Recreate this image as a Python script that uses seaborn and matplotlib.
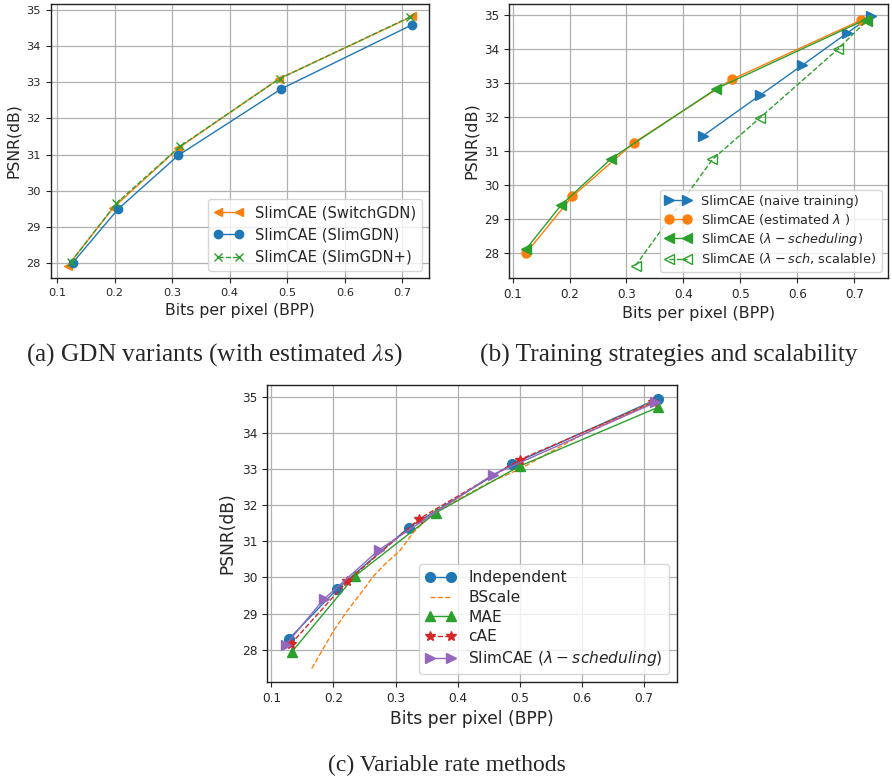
import numpy as np
import pandas as pd
import matplotlib
matplotlib.use("Agg")
import matplotlib.pyplot as plt
import seaborn as sns

# ---------------- data ----------------
# (a) GDN variants
a_switch_x = [0.119, 0.198, 0.311, 0.485, 0.717]
a_switch_y = [27.93, 29.53, 31.18, 33.09, 34.82]
a_slim_x = [0.127, 0.206, 0.311, 0.490, 0.717]
a_slim_y = [28.00, 29.49, 30.98, 32.82, 34.59]
a_slimp_x = [0.124, 0.203, 0.314, 0.487, 0.714]
a_slimp_y = [28.02, 29.65, 31.23, 33.10, 34.81]

# (b) training strategies
b_naive_x = [0.435, 0.535, 0.609, 0.688, 0.729]
b_naive_y = [31.45, 32.64, 33.52, 34.47, 34.95]
b_est_x = [0.124, 0.205, 0.313, 0.485, 0.712]
b_est_y = [28.00, 29.66, 31.24, 33.10, 34.84]
b_sch_x = [0.124, 0.185, 0.273, 0.458, 0.720]
b_sch_y = [28.12, 29.40, 30.77, 32.83, 34.86]
b_scal_x = [0.316, 0.451, 0.535, 0.672, 0.722]
b_scal_y = [27.63, 30.75, 31.98, 34.00, 34.83]

# (c) variable rate methods
c_ind_x = [0.128, 0.206, 0.321, 0.487, 0.723]
c_ind_y = [28.29, 29.68, 31.38, 33.13, 34.95]
c_bs_x = [0.165, 0.200, 0.222, 0.243, 0.265, 0.286, 0.307, 0.329, 0.361, 0.400, 0.450, 0.500, 0.600, 0.720]
c_bs_y = [27.48, 28.52, 29.07, 29.54, 30.05, 30.42, 30.74, 31.25, 31.80, 32.15, 32.62, 33.00, 33.95, 34.90]
c_mae_x = [0.133, 0.234, 0.365, 0.500, 0.723]
c_mae_y = [27.94, 30.03, 31.79, 33.08, 34.71]
c_cae_x = [0.131, 0.222, 0.338, 0.500, 0.714]
c_cae_y = [28.15, 29.89, 31.62, 33.26, 34.84]
c_slim_x = [0.123, 0.184, 0.273, 0.456, 0.718]
c_slim_y = [28.13, 29.39, 30.76, 32.84, 34.84]

xlabel = "Bits per pixel (BPP)"
ylabel = "PSNR(dB)"
captions = ["(a) GDN variants (with estimated $\\lambda$s)",
            "(b) Training strategies and scalability",
            "(c) Variable rate methods"]

# ---------------- style ----------------
sns.set_style("ticks")
plt.rcParams['font.family'] = ['DejaVu Sans']
plt.rcParams['mathtext.fontset'] = 'dejavusans'
plt.rcParams['axes.edgecolor'] = '#222222'

BLUE, ORANGE, GREEN, RED, PURPLE = '#1f77b4', '#ff7f0e', '#2ca02c', '#d62728', '#9467bd'

W, H = 892, 779
fig = plt.figure(figsize=(W / 100, H / 100), dpi=100)


def px_axes(l, r, t, b):
    return fig.add_axes([l / W, 1 - b / H, (r - l) / W, (b - t) / H])


ax_a = px_axes(50.7, 429.3, 4, 278)
ax_b = px_axes(509, 888, 4, 278)
ax_c = px_axes(267, 677, 385, 682)


def line(ax, x, y, label, color, marker=None, ls='-', ms=6, lw=1.0, hollow=False):
    kw = dict(color=color, linestyle=ls, linewidth=lw)
    if marker is not None:
        kw.update(marker=marker, markersize=ms, markeredgecolor=color,
                  markeredgewidth=1.0,
                  markerfacecolor='none' if hollow else color)
    sns.lineplot(x=x, y=y, ax=ax, label=label, sort=False, errorbar=None, **kw)


# (a)
line(ax_a, a_switch_x, a_switch_y, "SlimCAE (SwitchGDN)", ORANGE, '<', ms=6)
line(ax_a, a_slim_x, a_slim_y, "SlimCAE (SlimGDN)", BLUE, 'o', ms=6)
line(ax_a, a_slimp_x, a_slimp_y, "SlimCAE (SlimGDN+)", GREEN, 'x', ls='--', ms=6)

# (b)
line(ax_b, b_naive_x, b_naive_y, "SlimCAE (naive training)", BLUE, '>', ms=6.5)
line(ax_b, b_est_x, b_est_y, "SlimCAE (estimated $\\lambda$ )", ORANGE, 'o', ms=6.5)
line(ax_b, b_sch_x, b_sch_y, "SlimCAE ($\\lambda-scheduling$)", GREEN, '<', ms=6.5)
line(ax_b, b_scal_x, b_scal_y, "SlimCAE ($\\lambda-sch$, scalable)", GREEN, '<', ls='--', ms=6.5, hollow=True)

# (c)
line(ax_c, c_ind_x, c_ind_y, "Independent", BLUE, 'o', ms=7)
line(ax_c, c_bs_x, c_bs_y, "BScale", ORANGE, None, ls='--', lw=1.0)
line(ax_c, c_mae_x, c_mae_y, "MAE", GREEN, '^', ms=7)
line(ax_c, c_cae_x, c_cae_y, "cAE", RED, '*', ls='--', ms=7)
line(ax_c, c_slim_x, c_slim_y, "SlimCAE ($\\lambda-scheduling$)", PURPLE, '>', ms=7)

specs = [(ax_a, 8.2, 11.3, 10.6, 0.5), (ax_b, 8.6, 11.5, 9.3, 0.3), (ax_c, 8.7, 12.3, 11.2, 0.3)]
for ax, tfs, lfs, gfs, lsp in specs:
    ax.grid(True, color='#b0b0b0', linewidth=0.9)
    ax.set_axisbelow(True)
    ax.set_xlabel(xlabel, fontsize=lfs)
    ax.set_ylabel(ylabel, fontsize=lfs)
    ax.tick_params(labelsize=tfs, direction='out', length=3.5, width=0.8)
    ax.set_xticks([0.1, 0.2, 0.3, 0.4, 0.5, 0.6, 0.7])
    for s in ax.spines.values():
        s.set_visible(True)
        s.set_linewidth(1.0)
    ax.legend(loc='lower right', numpoints=2, fontsize=gfs, framealpha=0.8,
              edgecolor='#cccccc', fancybox=True, labelspacing=lsp)

ax_c.set_yticks([28, 29, 30, 31, 32, 33, 34, 35])

cap_kw = dict(ha='center', va='center', family='Liberation Serif',
              math_fontfamily='stix')
fig.text(214 / W, 1 - 355 / H, captions[0], fontsize=18.3, **cap_kw)
fig.text(669 / W, 1 - 355 / H, captions[1], fontsize=18.3, **cap_kw)
fig.text(447 / W, 1 - 765 / H, captions[2], fontsize=17, **cap_kw)

fig.savefig("out.png", dpi=100)
